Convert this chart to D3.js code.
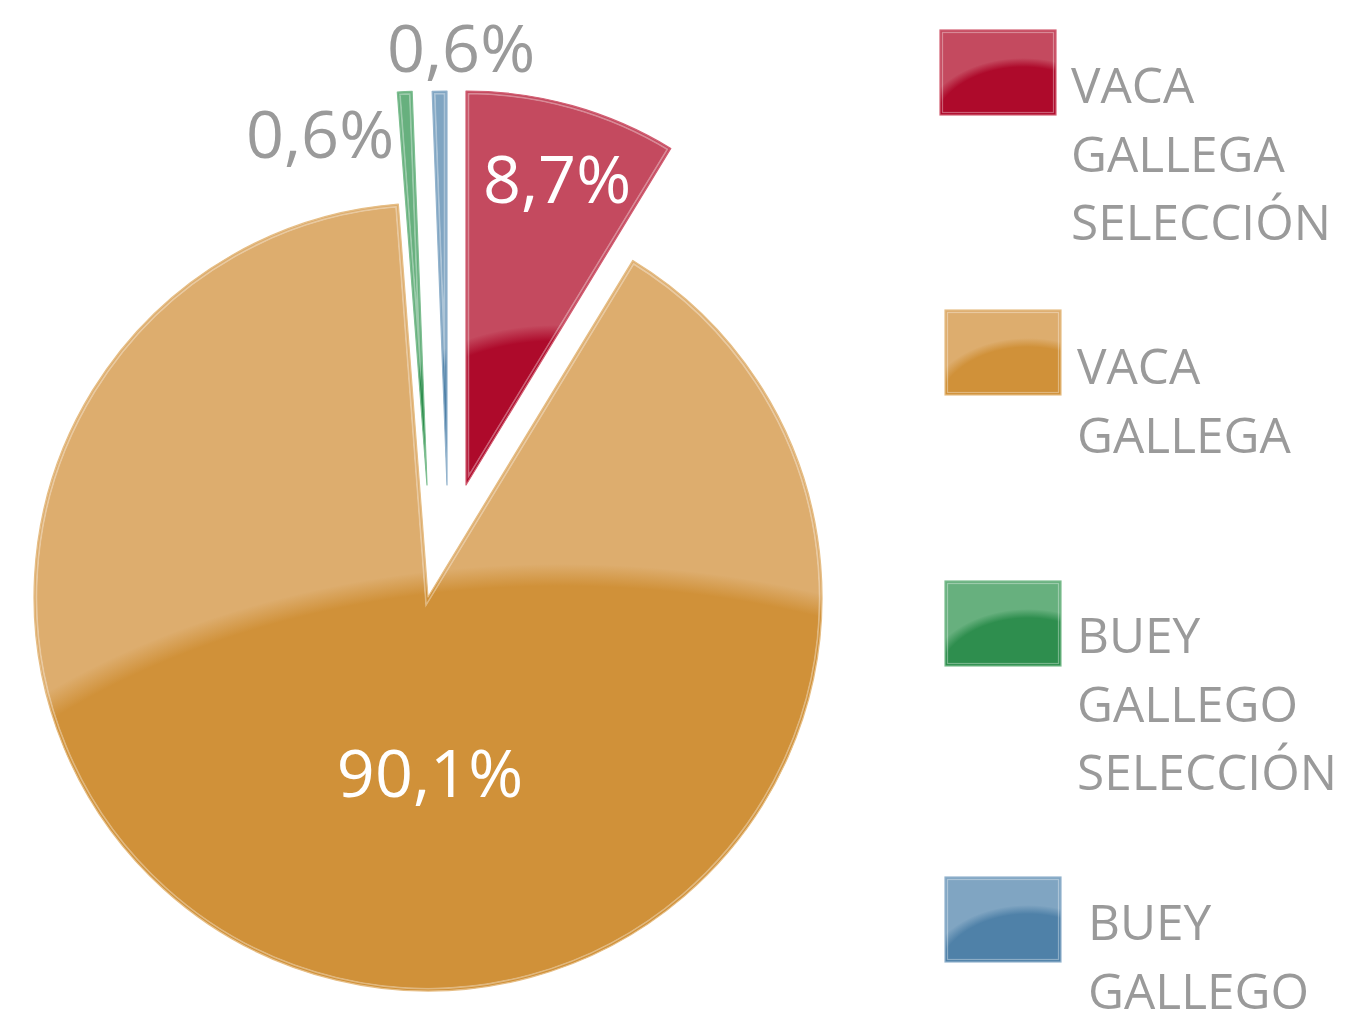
<!DOCTYPE html>
<html>
<head>
<meta charset="utf-8">
<script src="https://cdn.jsdelivr.net/npm/d3@7"></script>
<style>
  html, body { margin: 0; padding: 0; background: #ffffff; }
  svg { display: block; }
  text { font-family: "Open Sans", "Noto Sans", sans-serif; }
</style>
</head>
<body>
<svg id="chart" width="1347" height="1024"></svg>
<script>
// ---- data -------------------------------------------------------------
const categories = ["VACA GALLEGA SELECCIÓN", "VACA GALLEGA", "BUEY GALLEGO SELECCIÓN", "BUEY GALLEGO"];
const legendLines = [["VACA", "GALLEGA", "SELECCIÓN"], ["VACA", "GALLEGA"], ["BUEY", "GALLEGO", "SELECCIÓN"], ["BUEY", "GALLEGO"]];
const shares = [8.7, 90.1, 0.6, 0.6];
const valueLabels = ["8,7%", "90,1%", "0,6%", "0,6%"];

// ---- style ------------------------------------------------------------
const lightColors = ["#C44A5F", "#DDAD6E", "#67B07E", "#80A5C2"];
const darkColors  = ["#AE0A2B", "#D09139", "#2E8E4E", "#4F81A8"];
const edgeColors  = ["#D25F73", "#E6BE86", "#7DBE90", "#93B3CD"];
const labelColors = ["#ffffff", "#ffffff", "#9a9a9a", "#9a9a9a"];

// ---- layout -----------------------------------------------------------
const CX = 440, CY = 540, R = 394;
// each slice is pulled away from the centre by its own offset
const explode = [[26, -55], [-12, 57], [-13, -55], [7, -55]];
// darker lower "gloss" ellipse per slice (absolute coordinates)
const gloss = [
  { cx: 555, cy: 513, rx: 220, ry: 180, fade: 16 },
  { cx: 560, cy: 1055, rx: 750, ry: 480, fade: 22 },
  { cx: 555, cy: 513, rx: 220, ry: 180, fade: 16 },
  { cx: 555, cy: 513, rx: 220, ry: 180, fade: 16 }
];
// value label anchors (text centre x, baseline y)
const labelAnchor = [[557, 203], [430, 797], [320, 158], [461, 72]];
const LABEL_SIZE = 66.5;

// legend layout
const legendSwatch = [[940, 30], [945, 310], [945, 581], [945, 877]];
const SW_W = 116, SW_H = 85;
const legendText = [[1071, 103], [1077, 384], [1077, 653], [1088, 940]];
const LEGEND_SIZE = 49.5, LEGEND_LH = 68.5;

const svg = d3.select("#chart");
const defs = svg.append("defs");

const pie = d3.pie().sort(null).value(d => d);
const arcs = pie(shares);
const arcGen = d3.arc().innerRadius(0).outerRadius(R);

function glossGradient(id, color, fadePx, ry) {
  const g = defs.append("radialGradient").attr("id", id);
  const f = Math.max(0.5, 1 - fadePx / ry);
  g.append("stop").attr("offset", 0).attr("stop-color", color);
  g.append("stop").attr("offset", f).attr("stop-color", color);
  g.append("stop").attr("offset", 1).attr("stop-color", color).attr("stop-opacity", 0);
}

// ---- pie slices -------------------------------------------------------
arcs.forEach((a, i) => {
  const ox = CX + explode[i][0], oy = CY + explode[i][1];
  const d = arcGen(a);
  const g = svg.append("g").attr("class", "slice").attr("transform", `translate(${ox},${oy})`);

  defs.append("clipPath").attr("id", `clip-${i}`).append("path").attr("d", d);
  const m = defs.append("mask").attr("id", `inner-${i}`).attr("maskUnits", "userSpaceOnUse")
    .attr("x", -1000).attr("y", -1000).attr("width", 3000).attr("height", 3000);
  m.append("path").attr("d", d).attr("fill", "none").attr("stroke", "#fff").attr("stroke-width", 7);
  m.append("path").attr("d", d).attr("fill", "none").attr("stroke", "#000").attr("stroke-width", 3.4);

  const gl = gloss[i];
  glossGradient(`gloss-${i}`, darkColors[i], gl.fade, gl.ry + gl.fade / 2);

  g.append("path").attr("d", d).attr("fill", lightColors[i]);
  g.append("g").attr("clip-path", `url(#clip-${i})`)
    .append("ellipse")
    .attr("cx", gl.cx - ox).attr("cy", gl.cy - oy)
    .attr("rx", gl.rx + gl.fade / 2).attr("ry", gl.ry + gl.fade / 2)
    .attr("fill", `url(#gloss-${i})`);
  // thin light line just inside the edge
  g.append("g").attr("clip-path", `url(#clip-${i})`)
    .append("path").attr("d", d).attr("fill", "none")
    .attr("stroke", "#ffffff").attr("stroke-opacity", 0.35).attr("stroke-width", 7)
    .attr("mask", `url(#inner-${i})`);
  g.append("path").attr("d", d).attr("fill", "none")
    .attr("stroke", edgeColors[i]).attr("stroke-width", 1.2).attr("stroke-linejoin", "round");
});

// ---- value labels -----------------------------------------------------
svg.append("g").selectAll("text")
  .data(valueLabels)
  .join("text")
  .attr("x", (d, i) => labelAnchor[i][0])
  .attr("y", (d, i) => labelAnchor[i][1])
  .attr("text-anchor", "middle")
  .attr("font-size", LABEL_SIZE)
  .attr("fill", (d, i) => labelColors[i])
  .text(d => d);

// ---- legend -----------------------------------------------------------
const legend = svg.append("g").attr("class", "legend");
categories.forEach((c, i) => {
  const [sx, sy] = legendSwatch[i];
  const id = `lg-${i}`;
  defs.append("clipPath").attr("id", `lclip-${i}`)
    .append("rect").attr("x", sx).attr("y", sy).attr("width", SW_W).attr("height", SW_H);
  glossGradient(id, darkColors[i], 9, 74);

  const item = legend.append("g");
  item.append("rect").attr("x", sx).attr("y", sy).attr("width", SW_W).attr("height", SW_H)
    .attr("fill", lightColors[i]);
  item.append("g").attr("clip-path", `url(#lclip-${i})`)
    .append("ellipse")
    .attr("cx", sx + 83).attr("cy", sy + 102).attr("rx", 104).attr("ry", 74)
    .attr("fill", `url(#${id})`);
  item.append("rect").attr("x", sx + 2.5).attr("y", sy + 2.5).attr("width", SW_W - 5).attr("height", SW_H - 5)
    .attr("fill", "none").attr("stroke", "#ffffff").attr("stroke-opacity", 0.35).attr("stroke-width", 1.2);
  item.append("rect").attr("x", sx).attr("y", sy).attr("width", SW_W).attr("height", SW_H)
    .attr("fill", "none").attr("stroke", edgeColors[i]).attr("stroke-width", 1.2);

  const [tx, ty] = legendText[i];
  item.append("text")
    .attr("x", tx).attr("y", ty)
    .attr("font-size", LEGEND_SIZE)
    .attr("fill", "#9a9a9a")
    .selectAll("tspan")
    .data(legendLines[i])
    .join("tspan")
    .attr("x", tx)
    .attr("y", (d, k) => ty + k * LEGEND_LH)
    .text(d => d);
});
</script>
</body>
</html>
